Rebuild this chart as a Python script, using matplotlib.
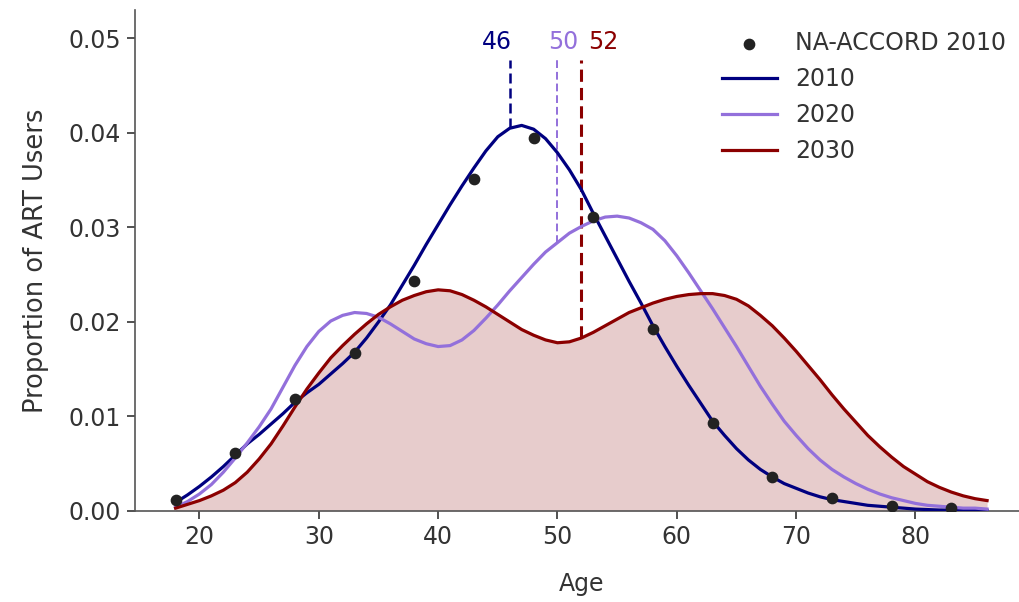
import numpy as np
import matplotlib
matplotlib.use("Agg")
import matplotlib.pyplot as plt

# ages for the model curves (one value per year)
ages = list(range(18, 87))

art_2010 = [0.0009, 0.0017, 0.0026, 0.0036, 0.0047, 0.0059, 0.0071, 0.0081, 0.0092, 0.0103,
            0.0115, 0.0125, 0.0134, 0.0145, 0.0156, 0.0168, 0.0183, 0.0200, 0.0218, 0.0239,
            0.0260, 0.0282, 0.0303, 0.0324, 0.0344, 0.0363, 0.0381, 0.0396, 0.0405, 0.0408,
            0.0404, 0.0394, 0.0379, 0.0361, 0.0340, 0.0315, 0.0291, 0.0267, 0.0243, 0.0220,
            0.0196, 0.0174, 0.0153, 0.0133, 0.0114, 0.0095, 0.0080, 0.0066, 0.0054, 0.0044,
            0.0036, 0.0029, 0.0024, 0.0019, 0.0015, 0.0012, 0.0010, 0.0008, 0.0006, 0.0005,
            0.0004, 0.0003, 0.0002, 0.00015, 0.0001, 0.0001, 0.00005, 0.00005, 0.00003]

art_2020 = [0.0004, 0.0010, 0.0018, 0.0028, 0.0041, 0.0056, 0.0072, 0.0089, 0.0108, 0.0131,
            0.0154, 0.0174, 0.0190, 0.0201, 0.0207, 0.0210, 0.0209, 0.0205, 0.0198, 0.0190,
            0.0182, 0.0177, 0.0174, 0.0175, 0.0181, 0.0191, 0.0204, 0.0218, 0.0233, 0.0247,
            0.0261, 0.0274, 0.0284, 0.0294, 0.0301, 0.0307, 0.0311, 0.0312, 0.0310, 0.0305,
            0.0298, 0.0286, 0.0270, 0.0252, 0.0233, 0.0214, 0.0194, 0.0174, 0.0153, 0.0132,
            0.0113, 0.0095, 0.0080, 0.0066, 0.0054, 0.0044, 0.0036, 0.0029, 0.0023, 0.0018,
            0.0014, 0.0011, 0.0008, 0.0006, 0.0005, 0.0004, 0.0003, 0.0003, 0.0002]

art_2030 = [0.0003, 0.0007, 0.0011, 0.0016, 0.0022, 0.0030, 0.0041, 0.0055, 0.0071, 0.0090,
            0.0110, 0.0129, 0.0146, 0.0162, 0.0175, 0.0187, 0.0198, 0.0208, 0.0216, 0.0223,
            0.0228, 0.0232, 0.0234, 0.0233, 0.0229, 0.0223, 0.0216, 0.0208, 0.0200, 0.0192,
            0.0186, 0.0181, 0.0178, 0.0179, 0.0183, 0.0189, 0.0196, 0.0203, 0.0210, 0.0215,
            0.0220, 0.0224, 0.0227, 0.0229, 0.0230, 0.0230, 0.0228, 0.0224, 0.0217, 0.0207,
            0.0196, 0.0183, 0.0169, 0.0154, 0.0139, 0.0123, 0.0108, 0.0094, 0.0080, 0.0068,
            0.0057, 0.0047, 0.0039, 0.0031, 0.0025, 0.0020, 0.0016, 0.0013, 0.0011]

# observed NA-ACCORD 2010 points
obs_ages = [18, 23, 28, 33, 38, 43, 48, 53, 58, 63, 68, 73, 78, 83]
obs_2010 = [0.00116, 0.0061, 0.01185, 0.01675, 0.0243, 0.0351, 0.0395, 0.0311,
            0.0193, 0.0093, 0.0036, 0.00134, 0.00056, 0.0003]

years = ["2010", "2020", "2030"]
medians = [46, 50, 52]
colors = ["navy", "mediumpurple", "darkred"]

TXT = "#333333"
plt.rcParams["font.family"] = "DejaVu Sans"
plt.rcParams["font.size"] = 17

fig = plt.figure(figsize=(10.19, 6.02), dpi=100)
ax = fig.add_axes([0.1325, 0.1512, 0.876, 0.832])

curves = [art_2010, art_2020, art_2030]
ax.scatter(obs_ages, obs_2010, s=55, color="#222222", zorder=5, label="NA-ACCORD 2010")
for yr, vals, c in zip(years, curves, colors):
    ax.plot(ages, vals, color=c, lw=2.3, label=yr, zorder=3)
ax.fill_between(ages, art_2030, 0, color="darkred", alpha=0.2, lw=0, zorder=1)

# median markers
label_shift = [-1.1, 0.5, 1.8]
dash_lw = [1.8, 1.4, 2.2]
for med, vals, c, dx, lw in zip(medians, curves, colors, label_shift, dash_lw):
    yv = vals[ages.index(med)]
    ax.plot([med, med], [yv, 0.0477], ls=(0, (4, 2)), color=c, lw=lw, zorder=2)
    ax.text(med + dx, 0.0489, str(med), color=c, ha="center", va="baseline", fontsize=17)

ax.set_ylim(0, 0.053)
ax.set_yticks([0.0, 0.01, 0.02, 0.03, 0.04, 0.05])
ax.set_xticks([20, 30, 40, 50, 60, 70, 80])
ax.set_xlabel("Age", color=TXT, labelpad=17)
ax.set_ylabel("Proportion of ART Users", color=TXT, labelpad=14, fontsize=18.5)
ax.tick_params(colors=TXT, length=6, width=1.2, pad=4)
for side in ["top", "right"]:
    ax.spines[side].set_visible(False)
for side in ["left", "bottom"]:
    ax.spines[side].set_color("#555555")
    ax.spines[side].set_linewidth(1.2)

ax.legend(loc="upper right", frameon=False, handlelength=2.3, labelcolor=TXT)

fig.savefig("out.png", dpi=100)
